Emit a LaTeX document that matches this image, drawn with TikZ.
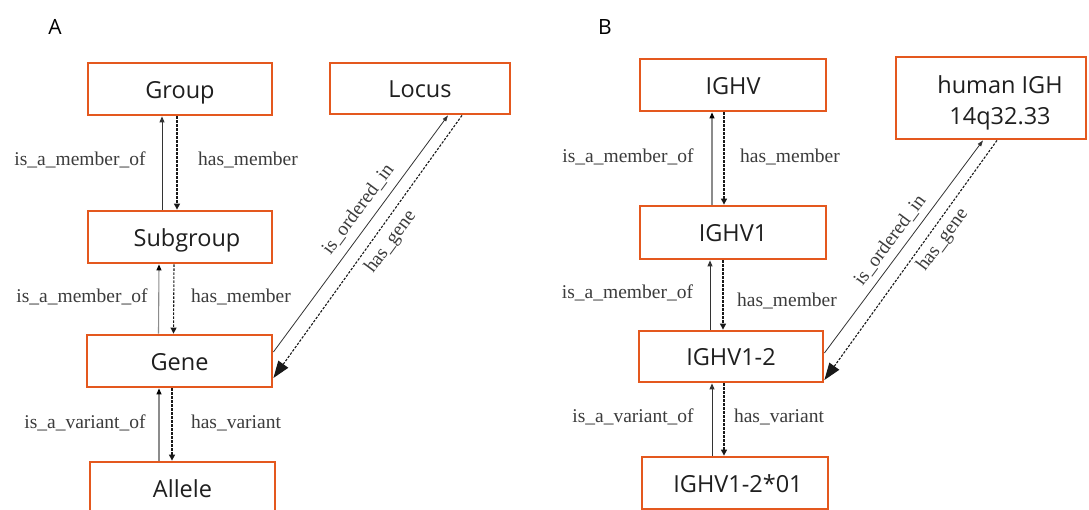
\documentclass[tikz,border=0pt]{standalone}
\usepackage{fontspec}
\setmainfont{Liberation Serif}
\newfontfamily\boxfont{Open Sans}
\usetikzlibrary{arrows.meta}
\definecolor{boxorange}{RGB}{228,88,30}
\definecolor{labgray}{RGB}{60,60,60}
\tikzset{
  termbox/.style={draw=boxorange, line width=2.8pt, fill=white, minimum width=#1, minimum height=52pt, inner sep=0pt, font=\boxfont\fontsize{23.5}{31}\selectfont, text=black!88, text height=19pt, text depth=0pt},
  termbox/.default=185pt,
  rel/.style={font=\fontsize{19.5}{22}\selectfont, text=labgray, inner sep=0pt},
  solidrel/.style={line width=0.9pt, draw=black!80, -{Triangle[length=6pt,width=5pt]}},
  solidgray/.style={line width=1.1pt, draw=black!45, -{Triangle[length=6pt,width=5pt,color=black]}},
  dashrel/.style={line width=1.1pt, draw=black!90, dash pattern=on 2.5pt off 1.5pt, -{Triangle[length=6pt,width=6pt]}},
  diagsolid/.style={line width=0.8pt, draw=black!80, -{Triangle[length=6pt,width=4pt]}},
  diagdash/.style={line width=1.1pt, draw=black!90, dash pattern=on 2.5pt off 1.5pt, -{Triangle[length=17pt,width=12pt]}},
  panel/.style={font=\boxfont\fontsize{21}{24}\selectfont, inner sep=0pt}
}
\begin{document}
\begin{tikzpicture}[x=1pt,y=-1pt]
\useasboundingbox (0,0) rectangle (1089,510);
\clip (0,0) rectangle (1089,510);
\fill[white] (0,0) rectangle (1089,510);

% ---------- Panel A ----------
\node[panel] (labA) at (55,27) {A};
\node[termbox=184pt] (group) at (180,89) {Group};
\node[termbox=184pt] (subgroup) at (180,237) {\hspace*{14pt}Subgroup};
\node[termbox=185pt] (gene) at (179.5,361) {Gene};
\node[termbox=185pt] (allele) at (182.5,488) {Allele};
\node[termbox=180pt, minimum height=51pt] (locus) at (420,88.5) {Locus};

\draw[solidrel] ([xshift=-18pt]subgroup.north) -- ([xshift=-18pt]group.south);
\draw[dashrel] ([xshift=-3pt]group.south) -- ([xshift=-3pt]subgroup.north);
\node[rel] (lA1) at (80,160) {is\_a\_member\_of};
\node[rel] (lA2) at (248,160) {has\_member};

\draw[solidgray] ([xshift=-21pt]gene.north) -- ([xshift=-21pt]subgroup.south);
\draw[dashrel] ([xshift=-6pt]subgroup.south) -- ([xshift=-6pt]gene.north);
\node[rel] (lA3) at (82,297) {is\_a\_member\_of};
\node[rel] (lA4) at (241,297) {has\_member};

\draw[solidgray] ([xshift=-23.5pt]allele.north) -- ([xshift=-20.5pt]gene.south);
\draw[dashrel] ([xshift=-7.5pt]gene.south) -- ([xshift=-10.5pt]allele.north);
\node[rel] (lA5) at (85,423) {is\_a\_variant\_of};
\node[rel] (lA6) at (236,423) {has\_variant};

\draw[diagsolid] ([yshift=9pt]gene.east) -- ([xshift=28pt]locus.south);
\draw[diagdash] ([xshift=42pt]locus.south) -- ([yshift=-17pt]gene.east);
\node[rel, rotate=53.5] (lA7) at (358,209) {is\_ordered\_in};
\node[rel, rotate=53.5] (lA8) at (391,242) {has\_gene};

% ---------- Panel B ----------
\node[panel] (labB) at (605,27) {B};
\node[termbox=186pt] (ighv) at (733,85) {IGHV};
\node[termbox=186pt, minimum height=53pt] (ighv1) at (733,232.5) {IGHV1};
\node[termbox=184pt, minimum height=51pt] (ighv12) at (731,356.5) {IGHV1-2};
\node[termbox=186pt] (allB) at (735,483) {\hspace*{6pt}IGHV1-2*01};
\node[termbox=190pt, minimum height=82pt, text height=54pt, text depth=0pt] (human) at (991,98)
  {\hspace*{18pt}\begin{tabular}[b]{@{}c@{}}human IGH\\14q32.33\end{tabular}};

\draw[solidgray] ([xshift=-21pt]ighv1.north) -- ([xshift=-21pt]ighv.south);
\draw[dashrel] ([xshift=-9pt]ighv.south) -- ([xshift=-9pt]ighv1.north);
\node[rel] (lB1) at (628,157) {is\_a\_member\_of};
\node[rel] (lB2) at (790,157) {has\_member};

\draw[solidrel] ([xshift=-21pt]ighv12.north) -- ([xshift=-23pt]ighv1.south);
\draw[dashrel] ([xshift=-10pt]ighv1.south) -- ([xshift=-8pt]ighv12.north);
\node[rel] (lB3) at (627.5,293) {is\_a\_member\_of};
\node[rel] (lB4) at (787,301) {has\_member};

\draw[solidrel] ([xshift=-23pt]allB.north) -- ([xshift=-19pt]ighv12.south);
\draw[dashrel] ([xshift=-7pt]ighv12.south) -- ([xshift=-11pt]allB.north);
\node[rel] (lB5) at (633,417) {is\_a\_variant\_of};
\node[rel] (lB6) at (779,417) {has\_variant};

\draw[diagsolid] ([yshift=3.5pt]ighv12.east) -- ([xshift=-8pt]human.south);
\draw[diagdash] ([xshift=6pt]human.south) -- ([yshift=-23.5pt]ighv12.east);
\node[rel, rotate=53.5] (lB7) at (890,240) {is\_ordered\_in};
\node[rel, rotate=53.5] (lB8) at (943,240) {has\_gene};
\end{tikzpicture}
\end{document}
